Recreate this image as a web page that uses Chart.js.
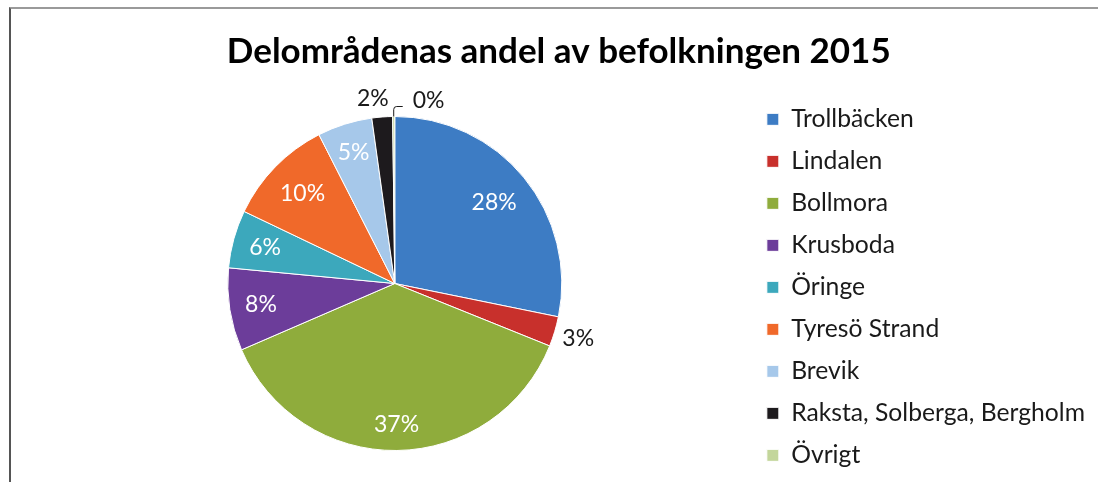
<!DOCTYPE html>
<html>
<head>
<meta charset="utf-8">
<script src="https://cdn.jsdelivr.net/npm/chart.js@4"></script>
<style>
  html, body { margin: 0; padding: 0; background: #fff; }
  #wrap { position: relative; width: 1098px; height: 482px; }
  #frame { position: absolute; left: 9px; top: 7px; right: 0; bottom: 0;
           border-top: 2px solid #9a9a9a; border-left: 2px solid #555; pointer-events: none; }
  canvas { display: block; }
</style>
</head>
<body>
<div id="wrap">
  <canvas id="c" width="1098" height="482"></canvas>
  <div id="frame"></div>
</div>
<script>
const titleText = 'Delområdenas andel av befolkningen 2015';
const categories = ['Trollbäcken', 'Lindalen', 'Bollmora', 'Krusboda', 'Öringe',
                    'Tyresö Strand', 'Brevik', 'Raksta, Solberga, Bergholm', 'Övrigt'];
const shares = [28.2, 2.9, 37.4, 8.0, 5.6, 10.4, 5.3, 2.0, 0.2];
const sliceColors = ['#3d7cc4', '#c8302c', '#8fac3c', '#6c3d9a', '#3ca8bc',
                     '#f0692a', '#a6c8ea', '#1d1a1d', '#c3d69b'];

const FONT = 'Lato, "Open Sans", sans-serif';

const pieLabels = {
  id: 'pieLabels',
  afterDatasetsDraw(chart, args, opts) {
    const ctx = chart.ctx;
    const meta = chart.getDatasetMeta(0);
    const data = chart.data.datasets[0].data;
    const total = data.reduce((a, b) => a + b, 0);
    ctx.save();
    ctx.font = opts.fontSize + 'px ' + FONT;
    ctx.textAlign = 'center';
    ctx.textBaseline = 'middle';
    const halfH = opts.fontSize / 2;
    meta.data.forEach((arc, i) => {
      const p = arc.getProps(['x', 'y', 'startAngle', 'endAngle', 'outerRadius'], true);
      const mid = (p.startAngle + p.endAngle) / 2;
      const pct = data[i] / total * 100;
      const txt = Math.round(pct) + '%';
      const halfW = ctx.measureText(txt).width / 2;
      const cx = Math.cos(mid), sy = Math.sin(mid);
      const extent = Math.abs(cx) * halfW + Math.abs(sy) * halfH;
      const next = data[i + 1] !== undefined ? data[i + 1] / total * 100 : 100;
      if (pct >= 4) {
        const r = p.outerRadius - opts.insideGap - extent;
        ctx.fillStyle = '#ffffff';
        ctx.fillText(txt, p.x + cx * r, p.y + sy * r);
      } else if (pct >= 1) {
        const r = p.outerRadius + opts.outsideGap + extent;
        // make room for a neighbouring tiny-slice leader label
        const shift = next < 1 ? -opts.crowdShift : 0;
        ctx.fillStyle = '#1a1a1a';
        ctx.fillText(txt, p.x + cx * r + shift, p.y + sy * r);
      } else {
        // tiny slice: label shifted sideways with a leader line
        const ex = p.x + cx * p.outerRadius;
        const ey = p.y + sy * p.outerRadius;
        ctx.strokeStyle = '#1a1a1a';
        ctx.lineWidth = 1;
        ctx.beginPath();
        ctx.moveTo(ex, ey);
        ctx.lineTo(ex, ey - 7);
        ctx.quadraticCurveTo(ex, ey - 10, ex + 3, ey - 10);
        ctx.lineTo(ex + 9, ey - 10);
        ctx.stroke();
        ctx.fillStyle = '#1a1a1a';
        ctx.textAlign = 'left';
        ctx.fillText(txt, ex + 19, ey - 16);
        ctx.textAlign = 'center';
      }
    });
    ctx.restore();
  }
};

new Chart(document.getElementById('c'), {
  type: 'pie',
  data: {
    labels: categories,
    datasets: [{
      data: shares,
      backgroundColor: sliceColors,
      borderColor: '#ffffff',
      borderWidth: 1,
      radius: 167
    }]
  },
  plugins: [pieLabels],
  options: {
    responsive: false,
    animation: false,
    layout: { padding: { top: 0, bottom: -3, left: 40, right: 3 } },
    plugins: {
      title: {
        display: true,
        text: titleText + '\u2002',
        color: '#000',
        font: { family: FONT, size: 35, weight: 'bold' },
        padding: { top: 31, bottom: 12 }
      },
      legend: {
        position: 'right',
        align: 'end',
        fullSize: true,
        labels: {
          color: '#1a1a1a',
          font: { family: FONT, size: 24.7 },
          boxWidth: 12,
          boxHeight: 12,
          padding: 17.3
        }
      },
      tooltip: { enabled: false },
      pieLabels: { fontSize: 23, insideGap: 14, outsideGap: 6, crowdShift: 8 }
    }
  }
});
</script>
</body>
</html>
